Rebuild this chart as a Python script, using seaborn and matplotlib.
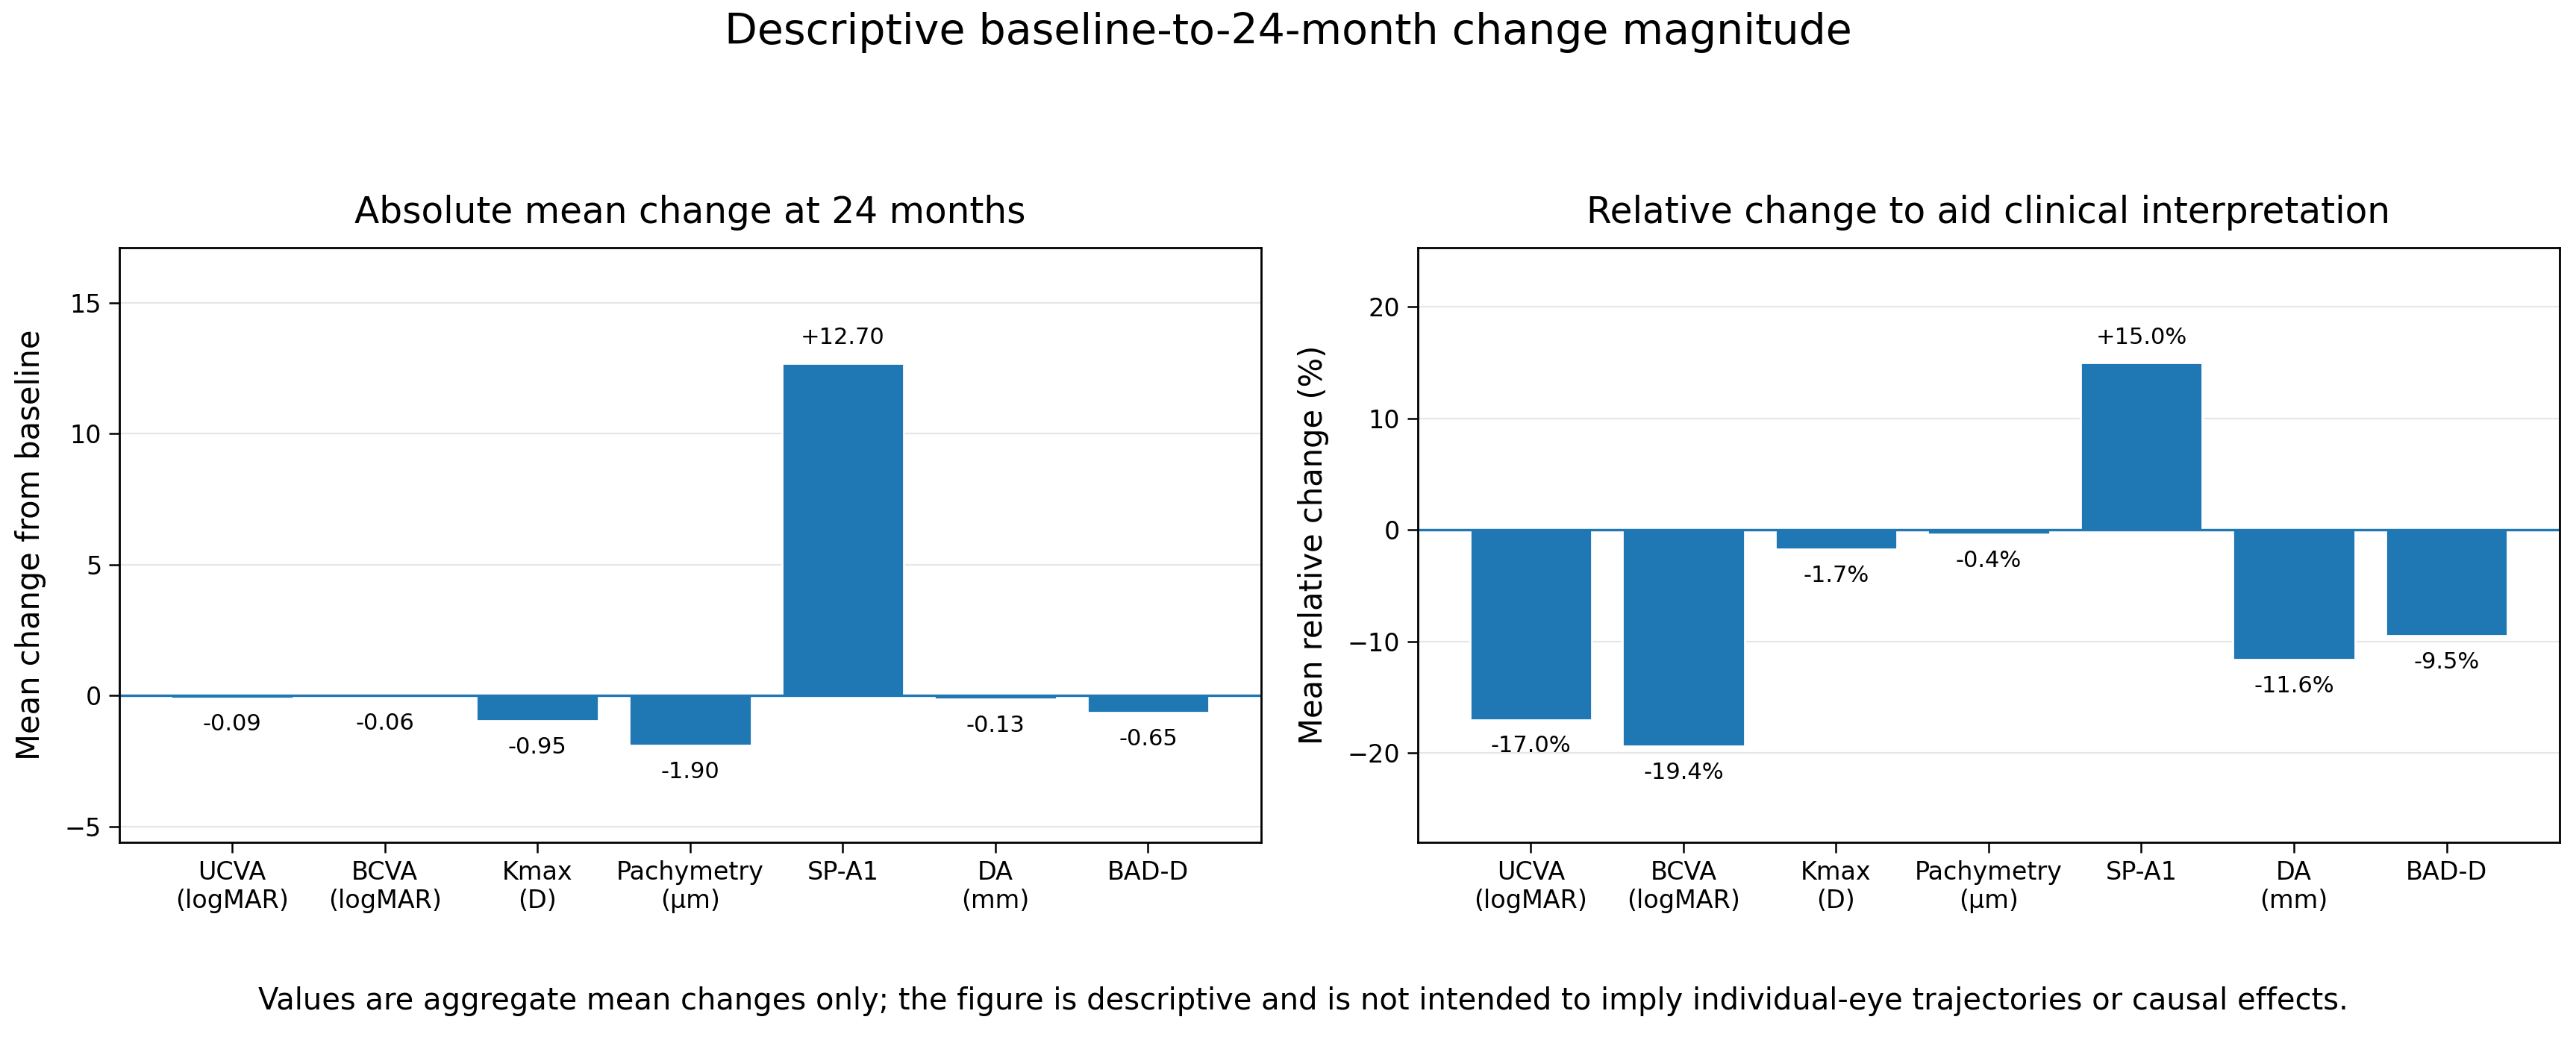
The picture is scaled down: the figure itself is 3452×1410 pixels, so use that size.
import numpy as np
import pandas as pd
import matplotlib
matplotlib.use("Agg")
import matplotlib.pyplot as plt
import seaborn as sns

# data
measures = ["UCVA\n(logMAR)", "BCVA\n(logMAR)", "Kmax\n(D)", "Pachymetry\n(µm)",
            "SP-A1", "DA\n(mm)", "BAD-D"]
abs_change = [-0.09, -0.06, -0.95, -1.90, 12.70, -0.13, -0.65]
rel_change = [-17.0, -19.4, -1.7, -0.4, 15.0, -11.6, -9.5]

sns.set_style("white", {"text.color": "black", "axes.labelcolor": "black",
                        "xtick.color": "black", "ytick.color": "black",
                        "axes.edgecolor": "black"})
plt.rcParams['font.family'] = ['DejaVu Sans']

df = pd.DataFrame({"measure": measures, "abs": abs_change, "rel": rel_change})

fig = plt.figure(figsize=(17.26, 7.05), dpi=200)
ax1 = fig.add_axes([0.0463, 0.1993, 0.4432, 0.5652])
ax2 = fig.add_axes([0.5504, 0.1993, 0.4432, 0.5652])

def draw(ax, col, fmt, ylim, title, ylabel):
    sns.barplot(data=df, x="measure", y=col, color="#1f77b4", saturation=1,
                width=0.8, ax=ax)
    ax.axhline(0, color="#1f77b4", linewidth=1.2)
    ax.set_ylim(*ylim)
    ax.set_xlim(-0.74, 6.74)
    ax.grid(axis="y", color="#e6e6e6", linewidth=0.8)
    ax.set_axisbelow(True)
    for s in ax.spines.values():
        s.set_visible(True)
        s.set_color("black")
        s.set_linewidth(1.0)
    ax.tick_params(axis="both", which="both", length=5, width=0.9,
                   labelsize=12, left=True, bottom=True, color="black")
    ax.set_xlabel("")
    ax.set_ylabel(ylabel, fontsize=15, labelpad=9)
    ax.set_title(title, fontsize=17.5, pad=12)
    for i, v in enumerate(df[col]):
        txt = fmt(v)
        if v >= 0:
            ax.annotate(txt, (i, v), xytext=(0, 7), textcoords="offset points",
                        ha="center", va="bottom", fontsize=11)
        else:
            ax.annotate(txt, (i, v), xytext=(0, -7.5), textcoords="offset points",
                        ha="center", va="top", fontsize=11)

draw(ax1, "abs", lambda v: f"{v:+.2f}" if v > 0 else f"{v:.2f}", (-5.6, 17.1),
     "Absolute mean change at 24 months", "Mean change from baseline")
draw(ax2, "rel", lambda v: f"{v:+.1f}%" if v > 0 else f"{v:.1f}%", (-28.0, 25.3),
     "Relative change to aid clinical interpretation", "Mean relative change (%)")

fig.suptitle("Descriptive baseline-to-24-month change magnitude", fontsize=20.5, y=0.969, va="center")
fig.text(0.506, 0.048, "Values are aggregate mean changes only; the figure is descriptive and is not "
         "intended to imply individual-eye trajectories or causal effects.",
         ha="center", va="center", fontsize=14.4)

fig.savefig("out.png", dpi=200)
